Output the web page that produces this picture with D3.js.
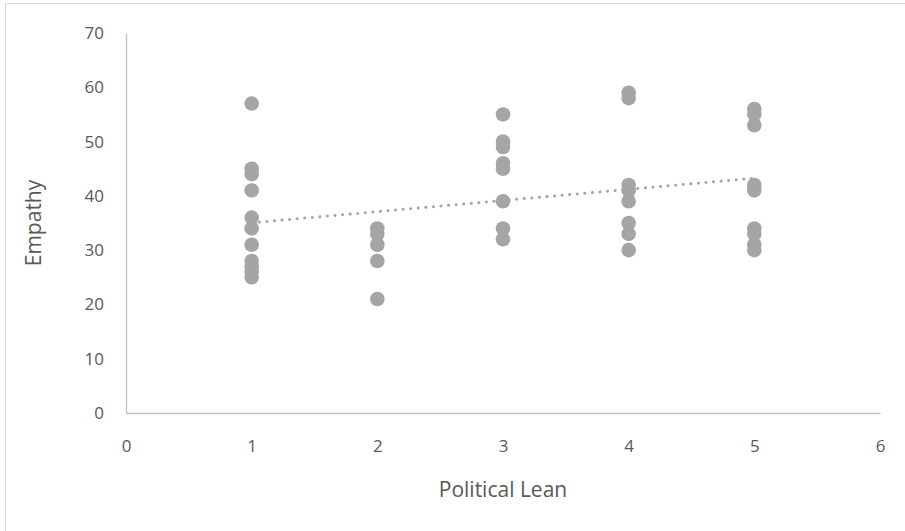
<!DOCTYPE html>
<html><head><meta charset="utf-8">
<script src="https://cdn.jsdelivr.net/npm/d3@7"></script>
<style>body{margin:0;background:#fff}svg{display:block}text{font-family:"Open Sans",Arial,sans-serif}</style>
</head><body>
<svg id="c" width="905" height="531"></svg>
<script>
const lean1 = [57,45,44,41,36,34,31,28,27,26,25];
const lean2 = [34,33,31,28,21];
const lean3 = [55,50,49,46,45,39,34,32];
const lean4 = [59,58,42,41,39,35,33,30];
const lean5 = [56,55,53,42,41,34,33,31,30];
const xTicks = [0,1,2,3,4,5,6];
const yTicks = [0,10,20,30,40,50,60,70];
const xTitle = "Political Lean";
const yTitle = "Empathy";

const groups = [lean1,lean2,lean3,lean4,lean5];
const pts = [];
groups.forEach((g,i)=>g.forEach(v=>pts.push({x:i+1,y:v})));

const svg = d3.select("#c");
svg.append("rect").attr("x",5.5).attr("y",3.5).attr("width",905).attr("height",540)
  .attr("fill","#fff").attr("stroke","#d9d9d9");

const x = d3.scaleLinear().domain([0,6]).range([126,880]);
const y = d3.scaleLinear().domain([0,70]).range([413,33]);

const font = '"Open Sans",Arial,sans-serif';
const gx = svg.append("g").attr("transform","translate(0,413)")
  .call(d3.axisBottom(x).tickValues(xTicks).tickSize(0).tickPadding(27).tickFormat(d3.format("d")));
const gy = svg.append("g").attr("transform","translate(126,0)")
  .call(d3.axisLeft(y).tickValues(yTicks).tickSize(0).tickPadding(22).tickFormat(d3.format("d")));
[gx,gy].forEach(g=>{
  g.select(".domain").attr("stroke","#bfbfbf").attr("stroke-width",1.3);
  g.selectAll("text").attr("fill","#595959").style("font-size","17px").style("font-family",font);
});

// linear regression trendline
const mx = d3.mean(pts,d=>d.x), my = d3.mean(pts,d=>d.y);
const sxy = d3.sum(pts,d=>(d.x-mx)*(d.y-my)), sxx = d3.sum(pts,d=>(d.x-mx)**2);
const slope = sxy/sxx, icpt = my - slope*mx;

svg.append("g").selectAll("circle").data(pts).join("circle")
  .attr("cx",d=>x(d.x)).attr("cy",d=>y(d.y)).attr("r",7.3).attr("fill","#a5a5a5");

const xr = d3.extent(pts,d=>d.x);
svg.append("line").attr("x1",x(xr[0])).attr("y1",y(icpt+slope*xr[0]))
  .attr("x2",x(xr[1])).attr("y2",y(icpt+slope*xr[1]))
  .attr("stroke","#a5a5a5").attr("stroke-width",3).attr("stroke-linecap","round")
  .attr("stroke-dasharray","0.1 7.5");

svg.append("text").attr("x",503).attr("y",497).attr("text-anchor","middle")
  .attr("fill","#595959").style("font-size","21px").style("font-family",font).text(xTitle);
svg.append("text").attr("transform","translate(41,223) rotate(-90)").attr("text-anchor","middle")
  .attr("fill","#595959").style("font-size","21px").style("font-family",font).text(yTitle);
</script>
</body></html>
